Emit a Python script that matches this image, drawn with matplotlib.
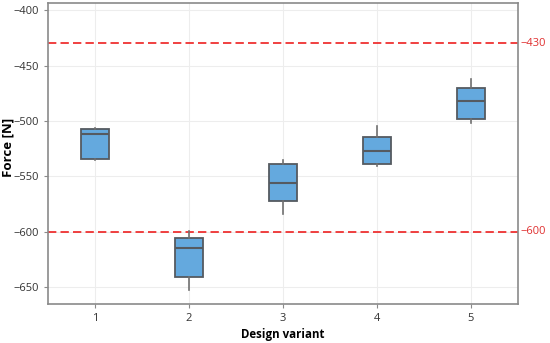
import matplotlib
matplotlib.use("Agg")
import matplotlib.pyplot as plt

plt.rcParams['font.family'] = ['Open Sans', 'DejaVu Sans']

variants = [1, 2, 3, 4, 5]
whisker_low = [-535, -653, -584, -541, -502]
q1 = [-534.5, -641, -572, -539, -498.5]
medians = [-512, -614.5, -556, -527, -482]
q3 = [-507.5, -605.5, -538.5, -514.5, -470]
whisker_high = [-506, -599.5, -535.5, -505, -462.5]
limits = [-430, -600]

stats = []
for lo, a, m, b, hi in zip(whisker_low, q1, medians, q3, whisker_high):
    stats.append({'whislo': lo, 'q1': a, 'med': m, 'q3': b, 'whishi': hi, 'fliers': []})

fig = plt.figure(figsize=(5.5, 3.43), dpi=100)
ax = fig.add_axes([0.0873, 0.1137, 0.8545, 0.8773])

edge = '#555a60'
ax.bxp(stats, positions=variants, widths=0.3, patch_artist=True, showcaps=False,
       boxprops=dict(facecolor='#64a9de', edgecolor=edge, linewidth=1.3),
       medianprops=dict(color=edge, linewidth=1.5),
       whiskerprops=dict(color='#707070', linewidth=1.2), zorder=3)

for v in limits:
    ax.axhline(v, color='#ee2020', linestyle=(0, (5, 2.5)), linewidth=1.2, zorder=2)
    ax.text(1.005, v, '−%d' % abs(v), transform=ax.get_yaxis_transform(),
            color='#e03030', fontsize=8, va='center', ha='left')

ax.set_xlim(0.5, 5.5)
ax.set_ylim(-665.5, -393.5)
ax.set_yticks([-400, -450, -500, -550, -600, -650])
ax.set_xticks(variants)
ax.set_xticklabels([str(v) for v in variants])
ax.grid(True, color='#ededed', linewidth=0.8, zorder=0)
ax.set_axisbelow(True)

for s in ax.spines.values():
    s.set_color('#8a8a8a')
    s.set_linewidth(1.2)
ax.tick_params(colors='#8a8a8a', labelcolor='#333333', labelsize=8, length=3)

ax.set_xlabel('Design variant', fontsize=8.3, fontweight='bold', labelpad=3)
ax.set_ylabel('Force [N]', fontsize=9.5, fontweight='bold')
ax.yaxis.set_label_coords(-0.072, 0.52)

fig.savefig('out.png', dpi=100)
